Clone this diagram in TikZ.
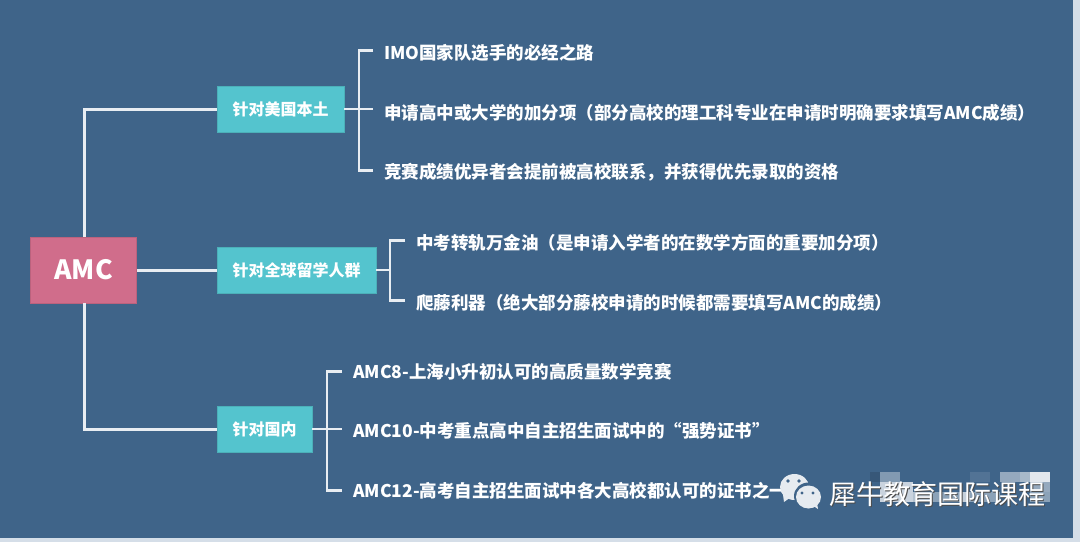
\documentclass[tikz,border=0pt]{standalone}
\usepackage{fontspec}
\setmainfont{Noto Sans CJK SC}
\definecolor{bgblue}{HTML}{3F6489}
\definecolor{pagepale}{HTML}{D5DEE8}
\definecolor{rootpink}{HTML}{D06D8B}
\definecolor{tealbox}{HTML}{54C4CE}
\definecolor{linewhite}{HTML}{E8EDF2}
\definecolor{iconwhite}{HTML}{E6EBF0}
\tikzset{
  rootbox/.style={fill=rootpink,draw=rootpink!90!black,line width=0.5pt,text=white,font=\fontsize{26.5}{30}\selectfont\bfseries,inner sep=0pt,minimum width=106pt,minimum height=66pt},
  midbox/.style={fill=tealbox,draw=tealbox!90!black,line width=0.5pt,text=white,font=\fontsize{16}{19}\selectfont\bfseries,inner sep=0pt,minimum height=45.5pt},
  leaf/.style={anchor=west,text=white,font=\fontsize{17.5}{21}\selectfont\bfseries,inner sep=0pt},
  conn/.style={draw=linewhite,line width=3pt},
  brk/.style={draw=linewhite,line width=2.4pt},
  wmtext/.style={font=\fontsize{27}{31}\selectfont,anchor=west,inner sep=0pt},
}
\begin{document}
\begin{tikzpicture}[x=1pt,y=-1pt]
\useasboundingbox (0,0) rectangle (1080,542);
\fill[pagepale] (0,0) rectangle (1080,542);
\fill[bgblue] (0,0) rectangle (1073,538);
% root and branches
\node[rootbox] (root) at (83.5,270) {AMC};
\node[midbox,minimum width=127pt] (us) at (280.5,109) {针对美国本土};
\node[midbox,minimum width=159pt] (gl) at (296.5,270) {针对全球留学人群};
\node[midbox,minimum width=95pt] (cn) at (264.5,429) {针对国内};
% leaves
\node[leaf] (a1) at (384,52.5) {IMO国家队选手的必经之路};
\node[leaf] (a2) at (384,112.5) {申请高中或大学的加分项（部分高校的理工科专业在申请时明确要求填写AMC成绩）};
\node[leaf] (a3) at (384,172.5) {竞赛成绩优异者会提前被高校联系，并获得优先录取的资格};
\node[leaf] (b1) at (416,242.5) {中考转轨万金油（是申请入学者的在数学方面的重要加分项）};
\node[leaf] (b2) at (416,302.5) {爬藤利器（绝大部分藤校申请的时候都需要填写AMC的成绩）};
\node[leaf] (c1) at (353,371.5) {AMC8-上海小升初认可的高质量数学竞赛};
\node[leaf] (c2) at (353,430.5) {AMC10-中考重点高中自主招生面试中的“强势证书”};
\node[leaf] (c3) at (353,490.5) {AMC12-高考自主招生面试中各大高校都认可的证书之一};
% connectors
\draw[conn] ([xshift=1.3pt]root.north) |- (us.west);
\draw[conn] (root.east) -- (gl.west);
\draw[conn] ([xshift=1.3pt]root.south) |- (cn.west);
\coordinate (a1e) at ([xshift=-11pt,yshift=2pt]a1.west);
\coordinate (a2e) at ([xshift=-11pt]a2.west);
\coordinate (a3e) at ([xshift=-11pt,yshift=2pt]a3.west);
\coordinate (b1e) at ([xshift=-11pt,yshift=2pt]b1.west);
\coordinate (b2e) at ([xshift=-11pt,yshift=2pt]b2.west);
\coordinate (c1e) at ([xshift=-11pt]c1.west);
\coordinate (c2e) at ([xshift=-11pt]c2.west);
\coordinate (c3e) at ([xshift=-11pt]c3.west);
\draw[brk] (a1e) -| ([xshift=15pt]us.east) |- (a3e);
\draw[brk] (us.east) -- (us.east -| a2e);
\draw[brk] (b1e) -| ([xshift=14pt]gl.east) |- (b2e);
\draw[brk] (gl.east) -- ([xshift=14pt]gl.east);
\draw[brk] (c1e) -| ([xshift=15pt]cn.east) |- (c3e);
\draw[brk] (cn.east) -- (cn.east -| c2e);
% mosaic behind watermark
\fill[black,opacity=0.12] (870,472) rectangle (880,482);
\fill[white,opacity=0.35] (880,472) rectangle (900,482);
\fill[white,opacity=0.72] (880,482) rectangle (913,502);
\fill[white,opacity=0.6] (913,492) rectangle (930,502);
\fill[white,opacity=0.4] (930,492) rectangle (960,502);
\fill[white,opacity=0.7] (960,492) rectangle (970,502);
\fill[white,opacity=0.4] (970,492) rectangle (1000,502);
\fill[white,opacity=0.1] (970,472) rectangle (990,482);
\fill[white,opacity=0.45] (1000,472) rectangle (1020,482);
\fill[white,opacity=0.55] (1020,472) rectangle (1030,482);
\fill[white,opacity=0.85] (1030,472) rectangle (1050,482);
\fill[white,opacity=0.45] (1030,482) rectangle (1050,492);
\fill[white,opacity=0.4] (1030,492) rectangle (1050,502);
% watermark icon
\fill[iconwhite] (782.5,491) -- (784,502) -- (791,497) -- cycle;
\fill[iconwhite] (794.5,487) ellipse (14.5pt and 13pt);
\fill[bgblue] (808.5,496) ellipse (14.5pt and 13.5pt);
\fill[iconwhite] (808.5,497) ellipse (12.5pt and 11.5pt);
\fill[iconwhite] (812,505) -- (818,509) -- (817,503) -- cycle;
\fill[bgblue] (788,481) circle (1.8pt) (799,481) circle (1.8pt) (802,493) circle (1.6pt) (813,493) circle (1.6pt);
% watermark text
\node[wmtext,text=black!70] at (830,495) {犀牛教育国际课程};
\node[wmtext,text=white] (wm) at (829,494) {犀牛教育国际课程};
\end{tikzpicture}
\end{document}
